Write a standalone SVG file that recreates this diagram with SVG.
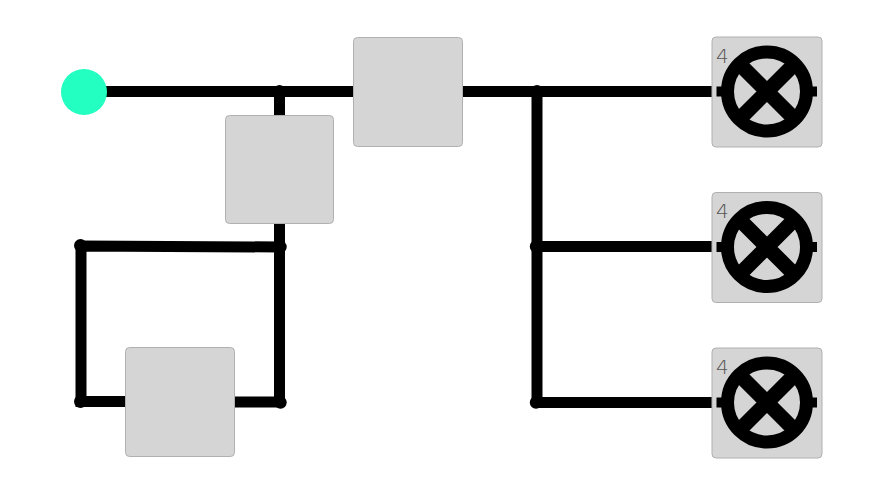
<svg xmlns="http://www.w3.org/2000/svg" width="870" height="495" viewBox="0 0 870 495">
<style>
.box{fill:#d5d5d5;stroke:#b0b0b0;stroke-width:1}
.w{fill:none;stroke:#000;stroke-width:11}
.d{fill:#000}
.l{fill:none;stroke:#000}
.n{font-family:"DejaVu Sans",sans-serif;font-weight:200;font-size:20px;fill:#555}
</style>
<rect width="870" height="495" fill="#fff"/>
<g id="connectors">
<path class="w" d="M84 91.500H714M279.500 91.500V402.500M80.500 246L280 247M81 246V401.500H130M230 402H280M537 91.500V402.500M537 246.500H714M537 402.500H714"/>
<circle class="d" cx="279.500" cy="91" r="6"/><circle class="d" cx="80.500" cy="245.500" r="6.500"/><circle class="d" cx="280.500" cy="247" r="6.200"/><circle class="d" cx="80.500" cy="401.500" r="6.500"/><circle class="d" cx="280.500" cy="402.500" r="6.200"/><circle class="d" cx="537" cy="91" r="6"/><circle class="d" cx="536" cy="246.500" r="6.200"/><circle class="d" cx="536" cy="402.500" r="6.200"/>
</g>
<g id="source"><circle cx="84" cy="92" r="23" fill="#22ffc0"/></g>
<g id="box1"><rect class="box" x="353.500" y="37.500" width="109" height="109" rx="4"/></g>
<g id="box2"><rect class="box" x="225.500" y="115.500" width="108" height="108" rx="4"/></g>
<g id="box3"><rect class="box" x="125.500" y="347.500" width="109" height="109" rx="4"/></g>
<g id="lamp1"><rect class="box" x="712" y="37" width="110" height="110" rx="4"/><text class="n" x="716" y="62.500">4</text><path class="l" stroke-width="10" d="M716.500 91.500H730M804 91.500H817"/><circle class="l" stroke-width="13" cx="767" cy="91.500" r="39.500"/><path class="l" stroke-width="15" d="M739 63.500L795 119.500M795 63.500L739 119.500"/></g>
<g id="lamp2"><rect class="box" x="712" y="192.500" width="110" height="110" rx="4"/><text class="n" x="716" y="218">4</text><path class="l" stroke-width="10" d="M716.500 247H730M804 247H817"/><circle class="l" stroke-width="13" cx="767" cy="247" r="39.500"/><path class="l" stroke-width="15" d="M739 219L795 275M795 219L739 275"/></g>
<g id="lamp3"><rect class="box" x="712" y="348" width="110" height="110" rx="4"/><text class="n" x="716" y="373.500">4</text><path class="l" stroke-width="10" d="M716.500 402.500H730M804 402.500H817"/><circle class="l" stroke-width="13" cx="767" cy="402.500" r="39.500"/><path class="l" stroke-width="15" d="M739 374.500L795 430.500M795 374.500L739 430.500"/></g>
</svg>
